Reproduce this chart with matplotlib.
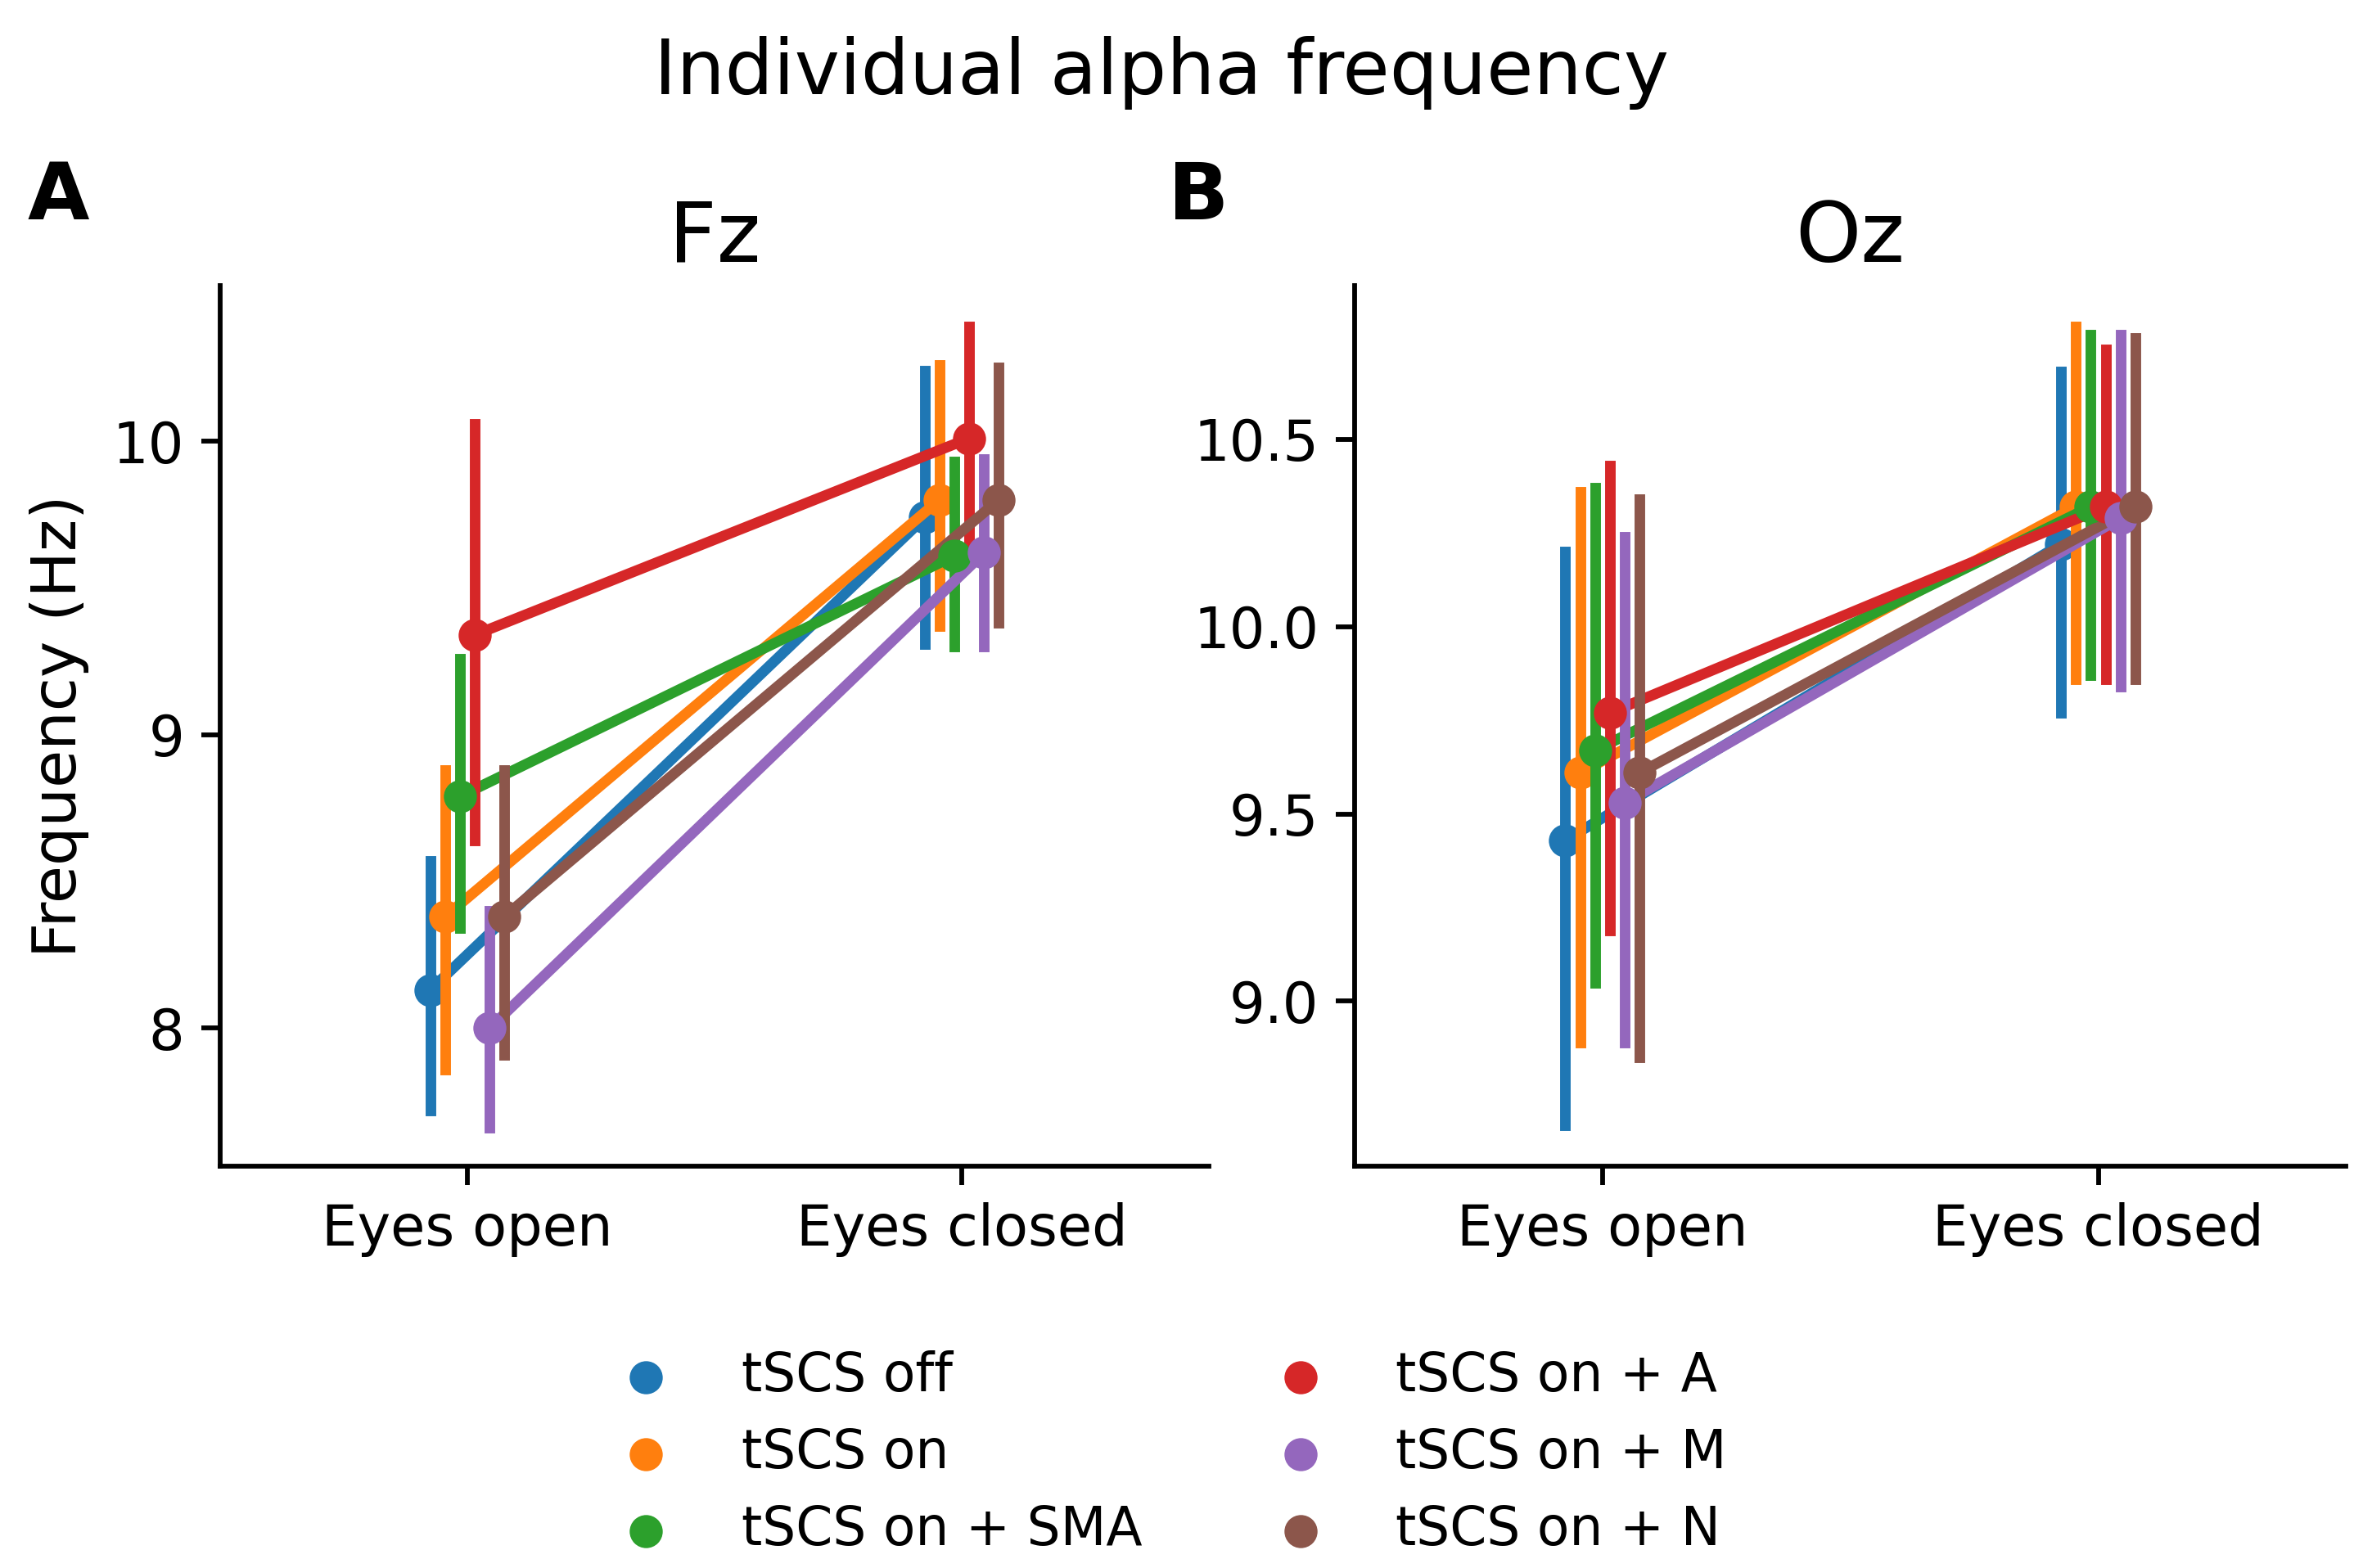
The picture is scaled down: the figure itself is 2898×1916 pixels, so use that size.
import numpy as np
import matplotlib
matplotlib.use('Agg')
import matplotlib.pyplot as plt

conditions = ['Eyes open', 'Eyes closed']
groups = ['tSCS off', 'tSCS on', 'tSCS on + SMA', 'tSCS on + A', 'tSCS on + M', 'tSCS on + N']
colors = ['#1f77b4', '#ff7f0e', '#2ca02c', '#d62728', '#9467bd', '#8c564b']

# Fz: one row per group, columns = [eyes open, eyes closed]
fz_mean = np.array([[8.13, 9.74],
                    [8.38, 9.80],
                    [8.79, 9.61],
                    [9.34, 10.01],
                    [8.00, 9.62],
                    [8.38, 9.80]])
fz_low = np.array([[7.72, 9.31],
                   [7.86, 9.37],
                   [8.34, 9.30],
                   [8.64, 9.60],
                   [7.66, 9.30],
                   [7.91, 9.38]])
fz_high = np.array([[8.57, 10.24],
                    [8.88, 10.26],
                    [9.26, 9.93],
                    [10.06, 10.39],
                    [8.40, 9.94],
                    [8.88, 10.25]])

# Oz
oz_mean = np.array([[9.43, 10.22],
                    [9.61, 10.32],
                    [9.67, 10.32],
                    [9.77, 10.32],
                    [9.53, 10.29],
                    [9.61, 10.32]])
oz_low = np.array([[8.67, 9.77],
                   [8.89, 9.86],
                   [9.05, 9.87],
                   [9.19, 9.86],
                   [8.89, 9.84],
                   [8.85, 9.86]])
oz_high = np.array([[10.20, 10.68],
                    [10.36, 10.80],
                    [10.37, 10.78],
                    [10.43, 10.74],
                    [10.24, 10.78],
                    [10.34, 10.77]])


def draw_panel(ax, mean, low, high):
    offsets = np.linspace(0, 0.15, len(groups))
    offsets -= offsets.mean()
    x = np.arange(len(conditions))
    for j, group in enumerate(groups):
        xs = x + offsets[j]
        ax.plot(xs, mean[j], color=colors[j], lw=3.1)
        for k in range(len(conditions)):
            ax.plot([xs[k], xs[k]], [low[j, k], high[j, k]], color=colors[j], lw=3.1)
        ax.scatter(xs, mean[j], s=9.7 ** 2, color=colors[j], linewidth=0,
                   zorder=j + 1, label=group)
    ax.set_xticks(x)
    ax.set_xticklabels(conditions)
    ax.set_xlim(-0.5, len(conditions) - 0.5)
    for side in ['top', 'right']:
        ax.spines[side].set_visible(False)
    for side in ['left', 'bottom']:
        ax.spines[side].set_linewidth(1.4)
    ax.tick_params(labelsize=16.5, length=5.5, width=1.4, pad=5)


fig = plt.figure(figsize=(9.66, 6.3867), dpi=300)
ax_a = fig.add_axes([0.0928, 0.2563, 0.4169, 0.5615])
ax_b = fig.add_axes([0.5711, 0.2563, 0.4180, 0.5615])

draw_panel(ax_a, fz_mean, fz_low, fz_high)
ax_a.set_ylim(7.53, 10.53)
ax_a.set_yticks([8, 9, 10])
ax_a.set_title('Fz', fontsize=24.5, pad=7)
ax_a.set_ylabel('Frequency (Hz)', fontsize=18, labelpad=7)

draw_panel(ax_b, oz_mean, oz_low, oz_high)
ax_b.set_ylim(8.56, 10.91)
ax_b.set_yticks([9.0, 9.5, 10.0, 10.5])
ax_b.set_yticklabels(['9.0', '9.5', '10.0', '10.5'])
ax_b.set_title('Oz', fontsize=24.5, pad=7)

fig.text(0.4897, 1 - 89 / 1916, 'Individual alpha frequency', ha='center', va='center', fontsize=22.4)
fig.text(34 / 2898, 1 - 268 / 1916, 'A', fontsize=23.4, fontweight='bold', va='baseline')
fig.text(1427 / 2898, 1 - 268 / 1916, 'B', fontsize=23.4, fontweight='bold', va='baseline')

handles, labels = ax_a.get_legend_handles_labels()
fig.legend(handles, labels, ncol=2, loc='center', bbox_to_anchor=(0.489, 1 - 1776 / 1916),
           frameon=False, fontsize=15.5, labelspacing=0.46, handletextpad=0.8, columnspacing=2.0)

fig.savefig('out.png', dpi=300)
